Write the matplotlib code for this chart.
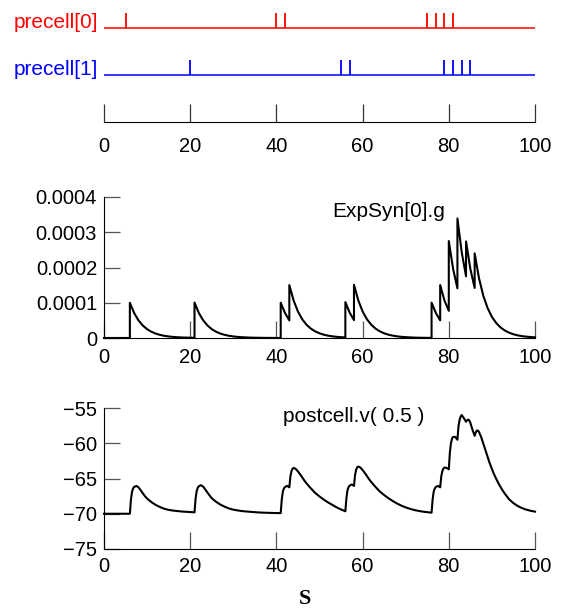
import matplotlib
matplotlib.use("Agg")
import matplotlib.pyplot as plt

plt.rcParams['font.family'] = ['Liberation Sans', 'DejaVu Sans']

# ---------------- data ----------------
cell_names = ["precell[0]", "precell[1]"]
cell_colors = ["#ff0000", "#0000ff"]
spikes_0 = [5, 40, 42, 75, 77, 79, 81]
spikes_1 = [20, 55, 57, 79, 81, 83, 85]

x_ticks = [0, 20, 40, 60, 80, 100]
x_tick_labels = ["0", "20", "40", "60", "80", "100"]

g_label = "ExpSyn[0].g"
g_ticks = [0, 0.0001, 0.0002, 0.0003, 0.0004]
g_tick_labels = ["0", "0.0001", "0.0002", "0.0003", "0.0004"]
# time (ms) and conductance (units of 1e-4); repeated times are jumps
g_t = [0, 6, 6, 7, 8, 9, 10, 11, 12, 13, 14, 15, 16, 17, 18, 19, 20,
       21, 21, 22, 23, 24, 25, 26, 27, 28, 29, 30, 31, 32, 33, 34, 35, 36, 37, 38, 39, 40,
       41, 41, 42, 43, 43, 44, 45, 46, 47, 48, 49, 50, 51, 52, 53, 54, 55,
       56, 56, 57, 58, 58, 59, 60, 61, 62, 63, 64, 65, 66, 67, 68, 69, 70, 71, 72, 73, 74, 75,
       76, 76, 77, 78, 78, 79, 80, 80, 81, 82, 82, 83, 84, 84, 85, 86, 86,
       87, 88, 89, 90, 91, 92, 93, 94, 95, 96, 97, 98, 99, 100]
g_e4 = [0, 0, 1.0, 0.707, 0.5, 0.354, 0.25, 0.177, 0.125, 0.088, 0.062, 0.044, 0.031, 0.022, 0.016, 0.011, 0.008,
        0.006, 1.006, 0.711, 0.503, 0.356, 0.251, 0.178, 0.126, 0.089, 0.063, 0.044, 0.031, 0.022, 0.016, 0.011, 0.008, 0.006, 0.004, 0.003, 0.002, 0.001,
        0.001, 1.001, 0.708, 0.5, 1.5, 1.061, 0.75, 0.53, 0.375, 0.265, 0.188, 0.133, 0.094, 0.066, 0.047, 0.033, 0.023,
        0.017, 1.017, 0.719, 0.508, 1.508, 1.067, 0.754, 0.533, 0.377, 0.267, 0.189, 0.133, 0.094, 0.067, 0.047, 0.033, 0.024, 0.017, 0.012, 0.008, 0.006, 0.004,
        0.003, 1.003, 0.709, 0.501, 1.501, 1.062, 0.77, 2.75, 1.96, 1.41, 3.39, 2.43, 1.75, 2.74, 1.96, 1.42, 2.40,
        1.70, 1.20, 0.85, 0.60, 0.425, 0.30, 0.212, 0.15, 0.106, 0.075, 0.053, 0.038, 0.027, 0.019]

v_label = "postcell.v( 0.5 )"
v_ticks = [-75, -70, -65, -60, -55]
v_tick_labels = ["\u221275", "\u221270", "\u221265", "\u221260", "\u221255"]
v_t = [0, 6.0, 6.25, 6.5, 6.75, 7.0, 7.5, 8.0, 8.5, 9.0, 9.5, 10, 11, 12, 13, 14, 15, 16, 17, 18, 19, 20,
       21, 21.25, 21.5, 21.75, 22.0, 22.5, 23.0, 23.5, 24.0, 24.5, 25, 26, 27, 28, 29, 30, 31, 32, 33, 34, 35,
       36, 37, 38, 39, 40,
       41, 41.25, 41.5, 41.75, 42.0, 42.5, 43.0, 43.25, 43.5, 43.75, 44.0, 44.5, 45.0, 45.5, 46.0, 46.5, 47.0,
       48, 49, 50, 51, 52, 53, 54, 55,
       56, 56.25, 56.5, 56.75, 57.0, 57.5, 58.0, 58.25, 58.5, 58.75, 59.0, 59.5, 60.0, 60.5, 61.0, 61.5, 62.0,
       63, 64, 65, 66, 67, 68, 69, 70, 71, 72, 73, 74, 75,
       76, 76.25, 76.5, 76.75, 77.0, 77.5, 78.0, 78.25, 78.5, 78.75, 79.0, 79.5, 80.0, 80.25, 80.5, 80.75, 81.0,
       81.5, 82.0, 82.25, 82.5, 82.75, 83.0, 83.5, 84.0, 84.25, 84.5, 84.75, 85.0, 85.5, 86.0, 86.25, 86.5,
       86.75, 87.0, 87.5, 88.0, 88.5, 89.0, 89.5, 90.0, 90.5, 91.0, 91.5, 92.0, 92.5, 93.0, 93.5, 94.0,
       95, 96, 97, 98, 99, 100]
v_mv = [-70.0, -70.0, -68.0, -66.9, -66.4, -66.2, -66.05, -66.25, -66.65, -67.1, -67.5, -67.85, -68.35, -68.75,
        -69.05, -69.3, -69.45, -69.55, -69.62, -69.68, -69.72, -69.76,
        -69.8, -67.85, -66.8, -66.3, -66.1, -65.95, -66.15, -66.55, -67.0, -67.4, -67.8, -68.3, -68.7, -69.0,
        -69.25, -69.42, -69.53, -69.62, -69.68, -69.73, -69.78, -69.82, -69.85, -69.87, -69.89, -69.9,
        -69.91, -67.95, -66.85, -66.4, -66.2, -66.05, -66.25, -64.7, -63.95, -63.6, -63.5, -63.65, -64.0, -64.4,
        -64.85, -65.3, -65.7, -66.4, -67.05, -67.55, -68.0, -68.4, -68.75, -69.1, -69.4,
        -69.65, -67.75, -66.65, -66.2, -66.0, -65.85, -66.05, -64.5, -63.75, -63.4, -63.3, -63.45, -63.8, -64.2,
        -64.65, -65.1, -65.5, -66.2, -66.85, -67.35, -67.8, -68.2, -68.55, -68.85, -69.1, -69.3, -69.47, -69.6,
        -69.7, -69.78,
        -69.85, -67.95, -66.85, -66.4, -66.2, -66.05, -66.25, -64.7, -63.95, -63.6, -63.45, -63.5, -63.7, -61.3,
        -60.0, -59.35, -59.1, -59.1, -59.5, -57.6, -56.7, -56.2, -56.0, -56.45, -56.95, -56.75, -56.65, -56.75,
        -57.1, -58.1, -58.95, -58.45, -58.2, -58.2, -58.4, -59.1, -60.05, -61.0, -61.95, -62.85, -63.65, -64.4,
        -65.05, -65.65, -66.2, -66.7, -67.15, -67.55, -67.95, -68.5, -68.9, -69.2, -69.42, -69.58, -69.7]

x_axis_label = "S"

# ---------------- figure ----------------
W, H = 566, 609
fig = plt.figure(figsize=(W / 100, H / 100), dpi=100)


def ax_rect(left, top, right, bottom):
    return [left / W, 1 - bottom / H, (right - left) / W, (bottom - top) / H]


TICK_FS = 14.5
LABEL_FS = 15
tick_col = "#555555"

# ---- raster panel ----
ax1 = fig.add_axes(ax_rect(104, 10, 535, 122))
ax1.set_xlim(0, 100)
ax1.set_ylim(0, 112 / 47.0)
for s in ["top", "right", "left"]:
    ax1.spines[s].set_visible(False)
ax1.spines["bottom"].set_color("black")
ax1.spines["bottom"].set_linewidth(0.8)
ax1.set_yticks([])
ax1.set_xticks(x_ticks)
ax1.set_xticklabels(x_tick_labels)
ax1.tick_params(axis="x", direction="in", length=13, width=0.9, color="#333333",
                labelsize=TICK_FS, pad=11)
rows = [2, 1]
for name, col, sp, row in zip(cell_names, cell_colors, [spikes_0, spikes_1], rows):
    ax1.plot([0, 100], [row, row], color=col, lw=1.1, solid_capstyle="butt")
    ax1.vlines(sp, row, row + 0.31, color=col, lw=1.3)
    ax1.text(-1.4, row, name, color=col, ha="right", va="baseline", fontsize=LABEL_FS)

# ---- conductance panel ----
ax2 = fig.add_axes(ax_rect(104, 197, 535, 338))
ax2.set_xlim(0, 100)
ax2.set_ylim(0, 0.0004)
for s in ["top", "right"]:
    ax2.spines[s].set_visible(False)
for s in ["left", "bottom"]:
    ax2.spines[s].set_linewidth(0.8)
ax2.set_xticks(x_ticks)
ax2.set_xticklabels(x_tick_labels)
ax2.set_yticks(g_ticks)
ax2.set_yticklabels(g_tick_labels)
ax2.tick_params(axis="x", direction="in", length=12, width=0.9, color=tick_col,
                labelsize=TICK_FS, pad=7)
ax2.tick_params(axis="y", direction="in", length=11.5, width=0.9, color=tick_col,
                labelsize=TICK_FS, pad=5)
ax2.plot(g_t, [v * 1e-4 for v in g_e4], color="black", lw=1.5, clip_on=False, zorder=3)
ax2.text(52.9, 0.000343, g_label, ha="left", va="baseline", fontsize=LABEL_FS)

# ---- voltage panel ----
ax3 = fig.add_axes(ax_rect(104, 408, 535, 549))
ax3.set_xlim(0, 100)
ax3.set_ylim(-75, -55)
for s in ["top", "right"]:
    ax3.spines[s].set_visible(False)
for s in ["left", "bottom"]:
    ax3.spines[s].set_linewidth(0.8)
ax3.set_xticks(x_ticks)
ax3.set_xticklabels(x_tick_labels)
ax3.set_yticks(v_ticks)
ax3.set_yticklabels(v_tick_labels)
ax3.tick_params(axis="x", direction="in", length=12, width=0.9, color=tick_col,
                labelsize=TICK_FS, pad=6)
ax3.tick_params(axis="y", direction="in", length=11.5, width=0.9, color=tick_col,
                labelsize=TICK_FS, pad=5)
ax3.plot(v_t, v_mv, color="black", lw=1.5, clip_on=False, zorder=3)
ax3.text(41.5, -57.0, v_label, ha="left", va="baseline", fontsize=LABEL_FS)

fig.text(305 / W, 1 - 599 / H, x_axis_label, ha="center", va="center",
         fontsize=16, fontweight="bold", family=["Liberation Serif", "DejaVu Serif"])

fig.savefig("out.png", dpi=100)
